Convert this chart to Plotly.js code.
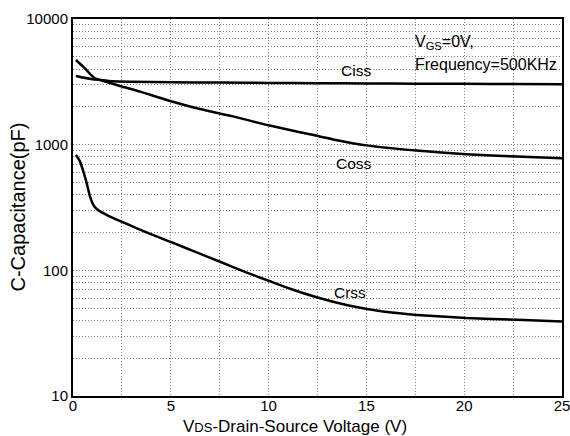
<!DOCTYPE html>
<html>
<head>
<meta charset="utf-8">
<script src="https://cdn.plot.ly/plotly-3.0.1.min.js"></script>
<style>html,body{margin:0;padding:0;background:#fff;}#chart{width:570px;height:436px;}</style>
</head>
<body>
<div id="chart"></div>
<script>
var cissV = [0.15, 0.5, 1.0, 1.4, 2, 3, 5, 7.5, 10, 12.5, 15, 17.5, 20, 22.5, 25];
var ciss  = [3520, 3420, 3320, 3270, 3200, 3170, 3140, 3120, 3100, 3080, 3070, 3060, 3050, 3040, 3025];

var cossV = [0.15, 0.6, 0.87, 1.12, 1.55, 2.4, 3.43, 4.79, 6.49, 8.18, 10, 11.6, 13.3, 15, 17.57, 20.1, 22.7, 25];
var coss  = [4720, 4060, 3660, 3375, 3214, 2930, 2642, 2270, 1924, 1679, 1425, 1257, 1101, 987, 897, 840, 804, 780];

var crssV = [0.15, 0.36, 0.53, 0.7, 0.87, 1.04, 1.21, 1.89, 2.57, 3.6, 4.96, 6.13, 7.52, 8.79, 10, 11.1, 12.46, 14.16, 15.85, 17.57, 20.1, 22.7, 25];
var crss  = [829, 733, 611, 494, 386, 332, 308, 268, 241, 205, 169, 143, 117, 97.3, 82.6, 71.3, 61, 52.2, 47, 44.2, 41.7, 40.4, 39.2];

var yTickVals = [10, 100, 1000, 10000];
var yTickText = ['10', '100', '1000', '10000'];
var xTickVals = [0, 5, 10, 15, 20, 25];

var lineStyle = {color: '#000', width: 2.5, shape: 'spline', smoothing: 0.6};
var traces = [
  {x: cissV, y: ciss, mode: 'lines', line: lineStyle, name: 'Ciss'},
  {x: cossV, y: coss, mode: 'lines', line: lineStyle, name: 'Coss'},
  {x: crssV, y: crss, mode: 'lines', line: lineStyle, name: 'Crss'}
];

var fontFam = 'Liberation Sans, Arial, sans-serif';
var gridCol = '#808080';
var gridDash = '1px,2px';
var layout = {
  width: 570, height: 436,
  margin: {l: 73, r: 8, t: 19, b: 40},
  paper_bgcolor: '#fff', plot_bgcolor: '#fff',
  showlegend: false,
  font: {family: fontFam, color: '#000', size: 14},
  xaxis: {
    range: [0, 25.0001], tickvals: xTickVals, ticks: '', ticklabelstandoff: -5, ticklabeloverflow: 'allow',
    showline: true, linecolor: '#000', linewidth: 2, mirror: true,
    showgrid: true, gridcolor: gridCol, griddash: gridDash, gridwidth: 1,
    minor: {dtick: 2.5, showgrid: true, gridcolor: gridCol, griddash: gridDash, gridwidth: 1, ticks: ''},
    zeroline: false,
    tickfont: {size: 15, family: fontFam}
  },
  yaxis: {
    type: 'log', range: [1, 4], tickvals: yTickVals, ticktext: yTickText, ticks: '', ticklabeloverflow: 'allow',
    showline: true, linecolor: '#000', linewidth: 2, mirror: true,
    showgrid: true, gridcolor: gridCol, griddash: gridDash, gridwidth: 1,
    minor: {dtick: 'D1', showgrid: true, gridcolor: gridCol, griddash: gridDash, gridwidth: 1, ticks: ''},
    zeroline: false,
    tickfont: {size: 15, family: fontFam}
  },
  annotations: [
    {x: 0.454, y: -0.0796, xref: 'paper', yref: 'paper', xanchor: 'center', yanchor: 'middle', text: 'V<span style="font-size:13px">DS</span>-Drain-Source Voltage (V)', showarrow: false, font: {size: 17, family: fontFam}},
    {x: -0.1145, y: 0.5, xref: 'paper', yref: 'paper', xanchor: 'center', yanchor: 'middle', text: 'C-Capacitance(pF)', textangle: -90, showarrow: false, font: {size: 20, family: fontFam}},
    {x: 14.47, y: 3.594, xref: 'x', yref: 'y', text: 'Ciss', showarrow: false, font: {size: 15.5, family: fontFam}},
    {x: 14.37, y: 2.847, xref: 'x', yref: 'y', text: 'Coss', showarrow: false, font: {size: 15.5, family: fontFam}},
    {x: 14.16, y: 1.821, xref: 'x', yref: 'y', text: 'Crss', showarrow: false, font: {size: 15.5, family: fontFam}},
    {x: 17.38, y: 3.817, xref: 'x', yref: 'y', xanchor: 'left', text: 'V<sub>GS</sub>=0V,', showarrow: false, font: {size: 16, family: fontFam}},
    {x: 17.38, y: 3.634, xref: 'x', yref: 'y', xanchor: 'left', text: 'Frequency=500KHz', showarrow: false, font: {size: 16, family: fontFam}}
  ]
};

Plotly.newPlot('chart', traces, layout, {staticPlot: true, displayModeBar: false});
</script>
</body>
</html>
